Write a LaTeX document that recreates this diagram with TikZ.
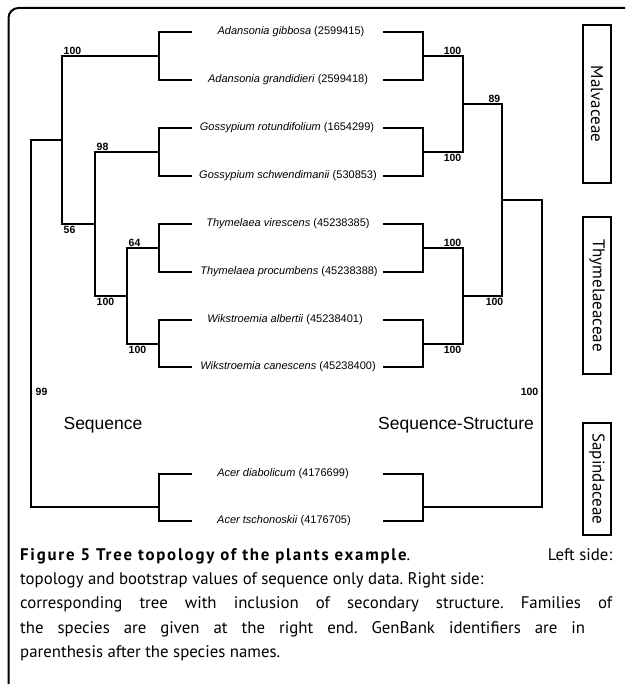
\documentclass[tikz,border=0pt]{standalone}
\usepackage{fontspec}
\setmainfont{Liberation Sans}
\newfontfamily\capfont{PT Sans}
\usetikzlibrary{positioning}
\frenchspacing

\begin{document}
\begin{tikzpicture}[x=1pt,y=-1pt,
treeline/.style={line width=2pt},
leaf/.style={font=\fontsize{11}{13}\selectfont,inner sep=0pt},
boot/.style={font=\bfseries\fontsize{10.5}{12}\selectfont,inner sep=1.5pt},
side/.style={font=\fontsize{17.5}{20}\selectfont,inner sep=0pt},
fam/.style={draw,line width=1.8pt,rotate=-90,minimum height=28pt,inner sep=0pt,font=\capfont\fontsize{17}{18}\selectfont}]
\useasboundingbox (0,0) rectangle (625,684);
\begin{scope}
\clip (0,0) rectangle (625,684);
\draw[line width=2pt,rounded corners=10pt] (8.5,8) rectangle (680,720);
\end{scope}
% species names
\node[leaf] (sA) at (291,32) {\textit{Adansonia gibbosa} (2599415)};
\node[leaf] (sB) at (288,80) {\textit{Adansonia grandidieri} (2599418)};
\node[leaf] (sC) at (287,128) {\textit{Gossypium rotundifolium} (1654299)};
\node[leaf] (sD) at (288,176) {\textit{Gossypium schwendimanii} (530853)};
\node[leaf] (sE) at (288,224) {\textit{Thymelaea virescens} (45238385)};
\node[leaf] (sF) at (289,272) {\textit{Thymelaea procumbens} (45238388)};
\node[leaf] (sG) at (285,320) {\textit{Wikstroemia albertii} (45238401)};
\node[leaf] (sH) at (288,367) {\textit{Wikstroemia canescens} (45238400)};
\node[leaf] (sI) at (283,474) {\textit{Acer diabolicum} (4176699)};
\node[leaf] (sJ) at (284,521) {\textit{Acer tschonoskii} (4176705)};
% left tree (sequence)
\foreach \n/\y in {A/32,B/80,C/128,D/176,E/224,F/272,G/320,H/367,I/474,J/521}{
  \coordinate (l\n) at (192,\y);
  \coordinate (r\n) at (383,\y);
}
\coordinate (lAB) at (159,56);
\coordinate (lCD) at (159,152);
\coordinate (lEF) at (159,248);
\coordinate (lGH) at (159,344);
\coordinate (lIJ) at (159,507);
\coordinate (l3) at (127,296);
\coordinate (l2) at (95,224);
\coordinate (l1) at (62,140);
\coordinate (l0) at (31,320);
\draw[treeline] (lAB) |- (lA) (lAB) |- (lB) (lCD) |- (lC) (lCD) |- (lD)
  (lEF) |- (lE) (lEF) |- (lF) (lGH) |- (lG) (lGH) |- (lH)
  (lIJ) |- (lI) (lIJ) |- (lJ);
\draw[treeline] (l3) |- (lEF) (l3) |- (lGH) (l2) |- (lCD) (l2) |- (l3)
  (l1) |- (lAB) (l1) |- (l2) (l0) |- (l1) (l0) |- (lIJ);
% right tree (sequence-structure)
\coordinate (rAB) at (423,56);
\coordinate (rCD) at (423,152);
\coordinate (rEF) at (423,248);
\coordinate (rGH) at (423,344);
\coordinate (rIJ) at (423,507);
\coordinate (r2) at (463,104);
\coordinate (r3) at (463,296);
\coordinate (r1) at (502,200);
\coordinate (r0) at (542,350);
\draw[treeline] (rAB) |- (rA) (rAB) |- (rB) (rCD) |- (rC) (rCD) |- (rD)
  (rEF) |- (rE) (rEF) |- (rF) (rGH) |- (rG) (rGH) |- (rH)
  (rIJ) |- (rI) (rIJ) |- (rJ);
\draw[treeline] (r2) |- (rAB) (r2) |- (rCD) (r3) |- (rEF) (r3) |- (rGH)
  (r1) |- (r2) (r1) |- (r3) (r0) |- (r1) (r0) |- (rIJ);
% bootstrap values
\node[boot,anchor=south west] at (l1 |- lAB) {100};
\node[boot,anchor=south west] at (l2 |- lCD) {98};
\node[boot,anchor=north west] at (l1 |- l2) {56};
\node[boot,anchor=north west] at (l2 |- l3) {100};
\node[boot,anchor=south west] at (l3 |- lEF) {64};
\node[boot,anchor=north west] at (l3 |- lGH) {100};
\node[boot,anchor=west] at (34,392) {99};
\node[boot,anchor=south east] at (r2 |- rAB) {100};
\node[boot,anchor=north east] at (r2 |- rCD) {100};
\node[boot,anchor=south east] at (r3 |- rEF) {100};
\node[boot,anchor=north east] at (r3 |- rGH) {100};
\node[boot,anchor=south east] at (r1 |- r2) {89};
\node[boot,anchor=north east] at ([xshift=3pt]r1 |- r3) {100};
\node[boot,anchor=east] at (540,392) {100};
\node[side] (seq) at (103,425) {Sequence};
\node[side] (seqstr) at (456,425) {Sequence-Structure};
% families
\node[fam,minimum width=158pt] (malv) at (597,104) {Malvaceae};
\node[fam,minimum width=157pt] (thym) at (597,295.5) {Thymelaeaceae};
\node[fam,minimum width=112pt] (sapi) at (597,479) {Sapindaceae};
% caption
\node[anchor=north west,text width=592pt,align=justify,inner sep=0pt,
  font=\capfont\fontsize{16.8}{24.3}\selectfont] (cap) at (20,548)
  {{\bfseries\addfontfeature{LetterSpace=10.5}Figure 5 Tree topology of the plants example}.\hfill Left side:\\
   topology and bootstrap values of sequence only data. Right side:\\
   \makebox[592pt][s]{corresponding tree with inclusion of secondary structure. Families of}\\
   \makebox[565pt][s]{the species are given at the right end. GenBank identifiers are in}\\
   parenthesis after the species names.\par};
\end{tikzpicture}
\end{document}
